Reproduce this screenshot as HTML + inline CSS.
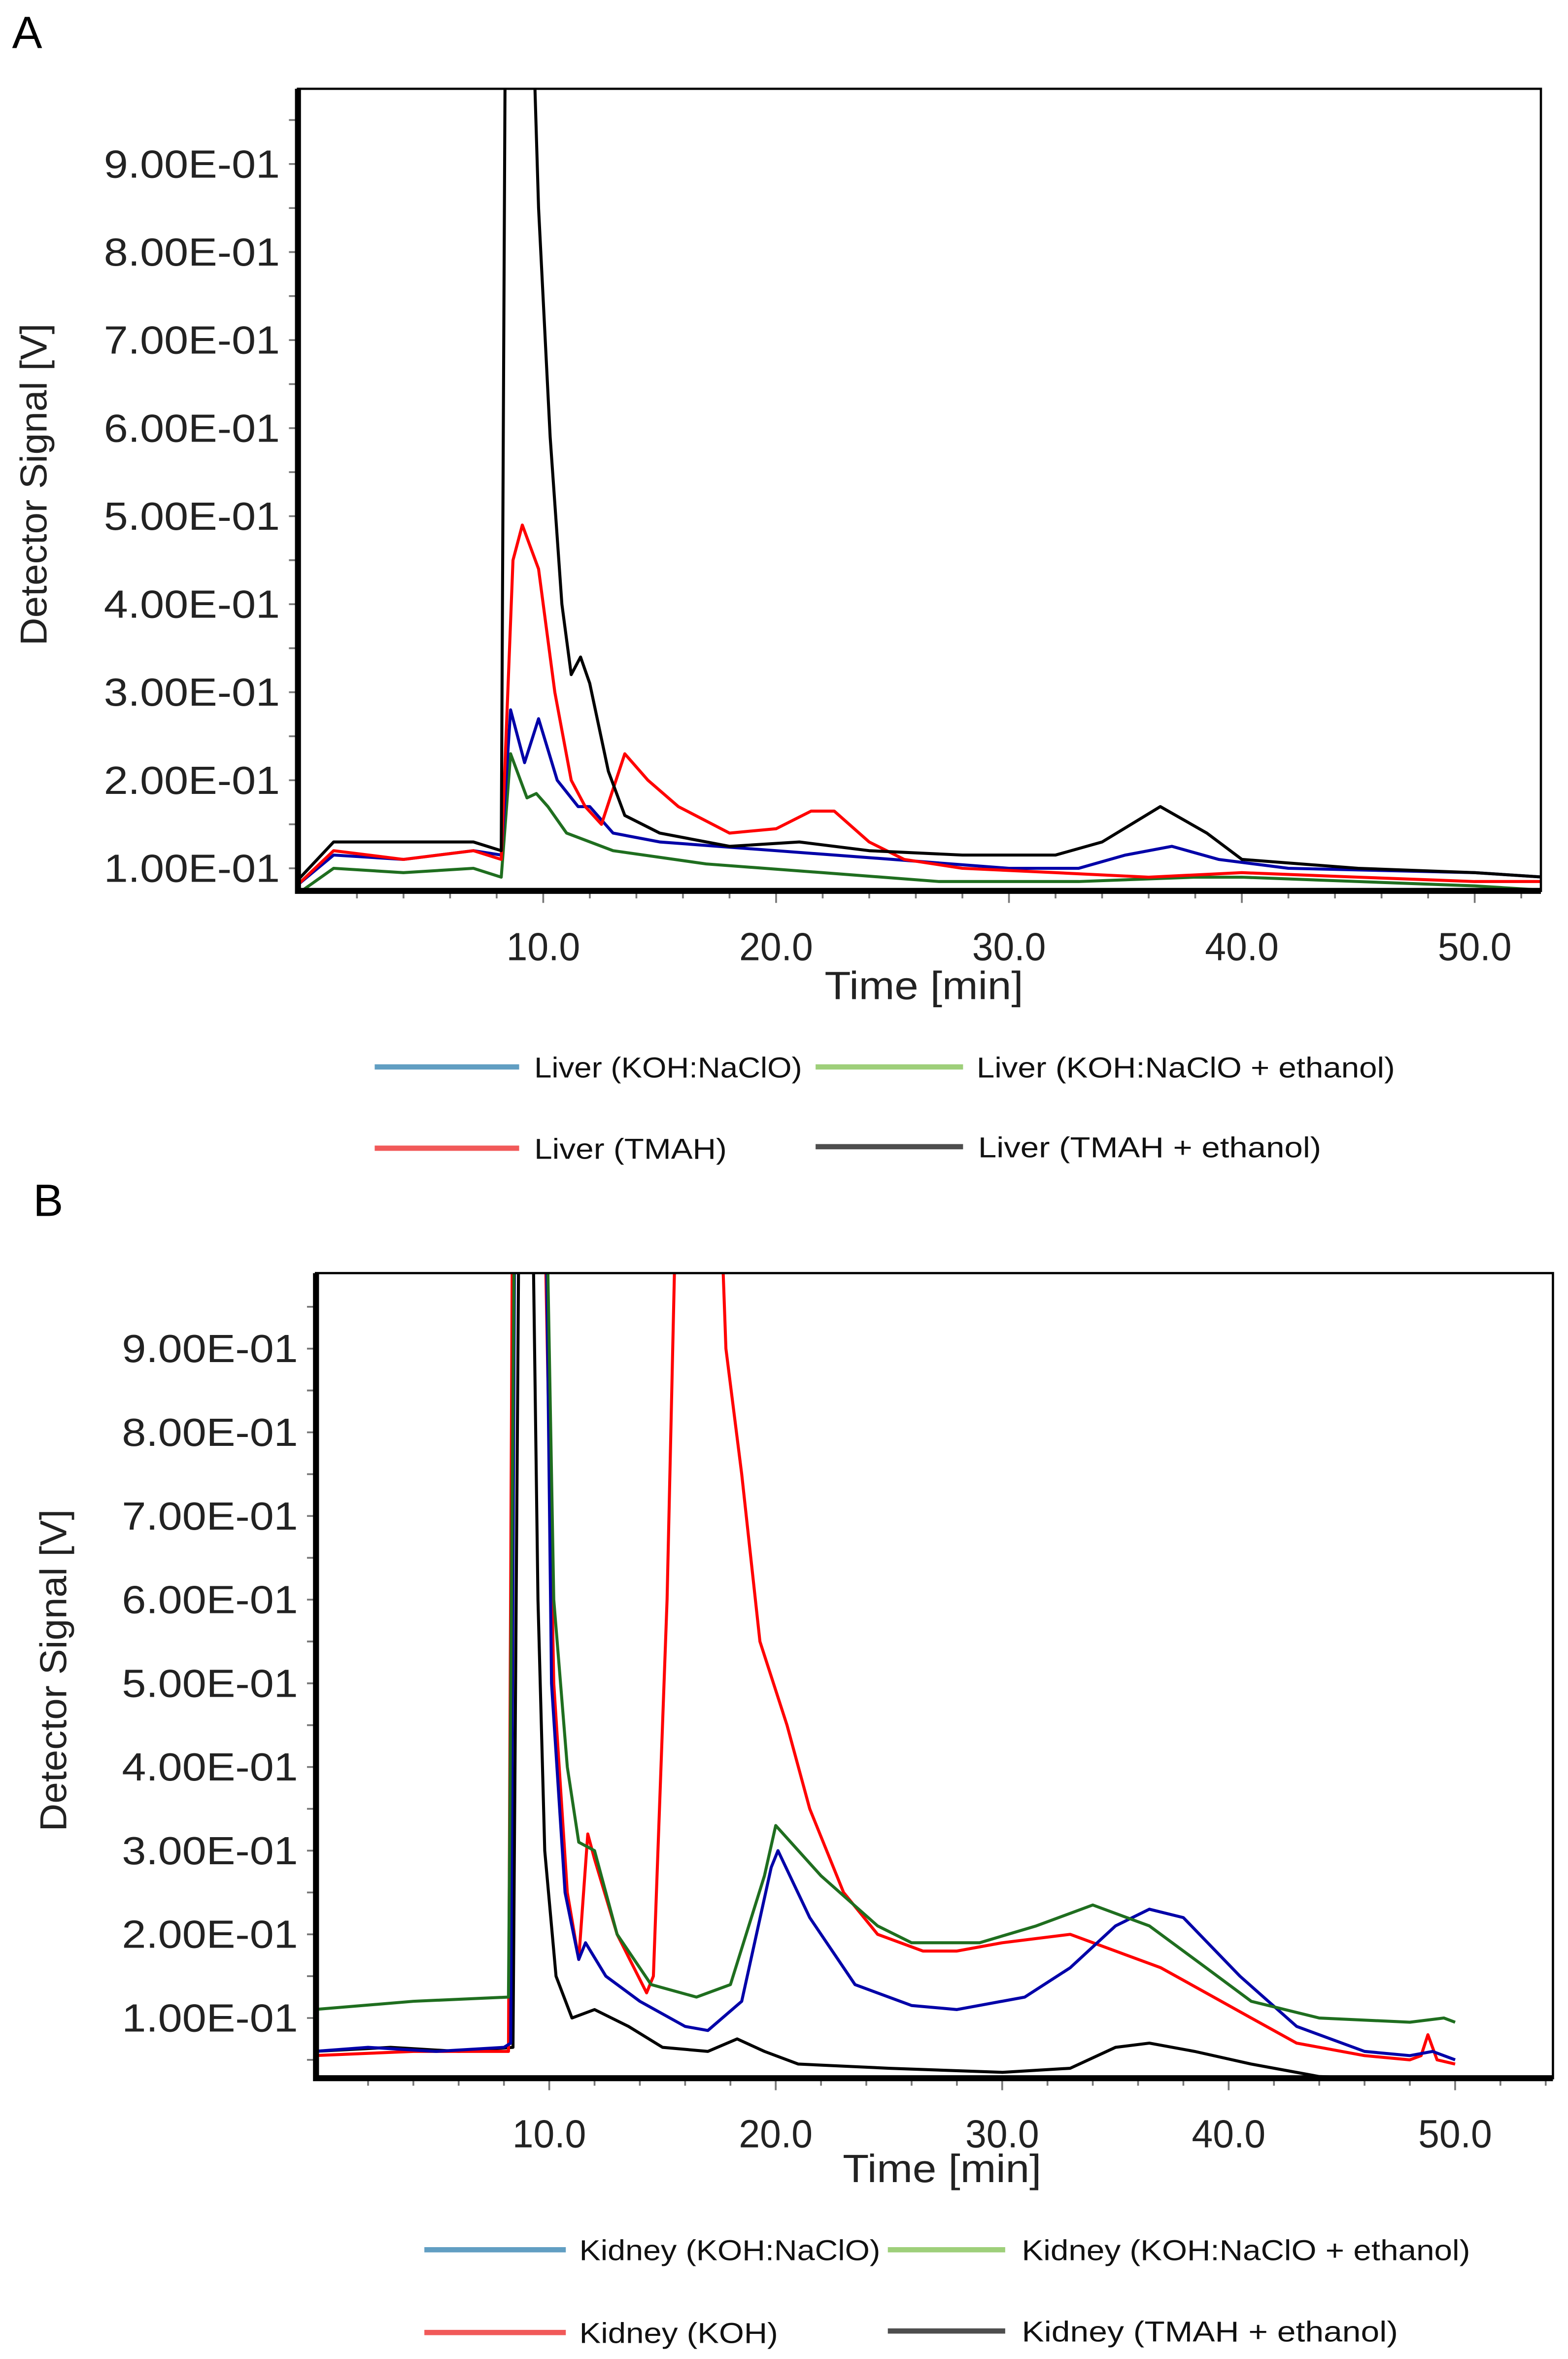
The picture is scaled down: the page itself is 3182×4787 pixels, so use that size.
<!DOCTYPE html>
<html><head><meta charset="utf-8"><style>
html,body{margin:0;padding:0;background:#fff}
svg{display:block}
text{font-family:"Liberation Sans",sans-serif}
</style></head><body>
<svg id="fig" width="3182" height="4787" viewBox="0 0 1042 1567.6" xmlns="http://www.w3.org/2000/svg">
<defs>
<clipPath id="clipA"><rect x="198" y="59" width="826" height="533"/></clipPath>
<clipPath id="clipB"><rect x="210" y="846" width="822" height="535"/></clipPath>
</defs>
<text x="8" y="32" font-size="30">A</text>
<text x="22" y="808" font-size="30">B</text>
<g id="panelA"></g>
<g id="panelB"></g>
</svg>
<script>
// ---- Panel A data ----
const aTicksX = [10, 20, 30, 40, 50];
const aTicksY = [0.1,0.2,0.3,0.4,0.5,0.6,0.7,0.8,0.9];
const aBlack = [[-0.6,0.085],[1,0.13],[4,0.13],[7,0.13],[8.2,0.12],[8.4,1.2],[9.4,1.2],[9.8,0.85],[10.3,0.59],[10.8,0.40],[11.2,0.32],[11.6,0.34],[12.0,0.31],[12.8,0.21],[13.5,0.16],[15,0.14],[18,0.125],[21,0.13],[24,0.12],[28,0.115],[32,0.115],[34,0.13],[36.5,0.17],[38.5,0.14],[40,0.11],[45,0.10],[50,0.095],[53,0.09]];
const aRed = [[-0.6,0.08],[1,0.12],[4,0.11],[7,0.12],[8.2,0.11],[8.7,0.45],[9.1,0.49],[9.8,0.44],[10.5,0.30],[11.2,0.20],[11.8,0.17],[12.5,0.15],[13.0,0.19],[13.5,0.23],[14.5,0.20],[15.8,0.17],[18,0.14],[20,0.145],[21.5,0.165],[22.5,0.165],[24,0.13],[25.5,0.11],[28,0.10],[32,0.095],[36,0.09],[40,0.095],[45,0.09],[50,0.085],[53,0.085]];
const aBlue = [[-0.6,0.08],[1,0.115],[4,0.11],[7,0.12],[8.2,0.115],[8.6,0.28],[9.2,0.22],[9.8,0.27],[10.6,0.20],[11.5,0.17],[12,0.17],[13,0.14],[15,0.13],[20,0.12],[25,0.11],[30,0.10],[33,0.10],[35,0.115],[37,0.125],[39,0.11],[42,0.10],[50,0.095],[53,0.09]];
const aGreen = [[-0.6,0.07],[1,0.10],[4,0.095],[7,0.10],[8.2,0.09],[8.6,0.23],[9.3,0.18],[9.7,0.185],[10.2,0.17],[11,0.14],[13,0.12],[17,0.105],[22,0.095],[27,0.085],[33,0.085],[38,0.09],[40,0.09],[45,0.085],[50,0.08],[53,0.075]];
// ---- Panel B data ----
const bTicksX = [10, 20, 30, 40, 50];
const bTicksY = [0.1,0.2,0.3,0.4,0.5,0.6,0.7,0.8,0.9];
const bBlue = [[-0.4,0.06],[2,0.065],[5,0.06],[8,0.065],[8.3,0.07],[8.5,1.2],[9.8,1.2],[10.1,0.5],[10.7,0.25],[11.3,0.17],[11.6,0.19],[12.5,0.15],[14,0.12],[16,0.09],[17,0.085],[18.5,0.12],[19.8,0.28],[20.1,0.30],[21.5,0.22],[23.5,0.14],[26,0.115],[28,0.11],[31,0.125],[33,0.16],[35,0.21],[36.5,0.23],[38,0.22],[40.5,0.15],[43,0.09],[46,0.06],[48,0.055],[49,0.06],[50,0.05]];
const bGreen = [[-0.4,0.11],[4,0.12],[8.2,0.125],[8.5,1.2],[9.8,1.2],[10.2,0.6],[10.8,0.40],[11.3,0.31],[12,0.30],[13,0.20],[14.5,0.14],[16.5,0.125],[18,0.14],[19.5,0.27],[20,0.33],[22,0.27],[24.5,0.21],[26,0.19],[29,0.19],[31.5,0.21],[34,0.235],[36.5,0.21],[39,0.16],[41,0.12],[44,0.10],[48,0.095],[49.5,0.10],[50,0.095]];
const bRed = [[-0.4,0.055],[4,0.06],[8.2,0.06],[8.4,1.2],[9.7,1.2],[10.2,0.5],[10.8,0.25],[11.3,0.17],[11.7,0.32],[12,0.29],[13,0.20],[14.3,0.13],[14.6,0.15],[15.2,0.6],[15.7,1.2],[17.4,1.2],[17.8,0.9],[18.5,0.75],[19.3,0.55],[20.5,0.45],[21.5,0.35],[23,0.25],[24.5,0.20],[26.5,0.18],[28,0.18],[30,0.19],[33,0.20],[35,0.18],[37,0.16],[39,0.13],[41,0.10],[43,0.07],[46,0.055],[48,0.05],[48.5,0.055],[48.8,0.08],[49.2,0.05],[50,0.045]];
const bBlack = [[-0.4,0.06],[3,0.065],[6,0.06],[8.4,0.065],[8.7,1.2],[9.2,1.2],[9.5,0.6],[9.8,0.3],[10.3,0.15],[11,0.10],[12,0.11],[13.5,0.09],[15,0.065],[17,0.06],[18.3,0.075],[19.5,0.06],[21,0.045],[25,0.04],[30,0.035],[33,0.04],[35,0.065],[36.5,0.07],[38.5,0.06],[41,0.045],[44,0.03],[50,0.025]];

const NS = "http://www.w3.org/2000/svg";
function mk(parent, tag, attrs, txt){
  const e = document.createElementNS(NS, tag);
  for (const k in attrs) e.setAttribute(k, attrs[k]);
  if (txt !== undefined) e.textContent = txt;
  parent.appendChild(e);
  return e;
}
function draw(g, cfg){
  const sx = t => cfg.x10 + (t-10)*cfg.pxX;
  const sy = v => cfg.y01 - (v-0.1)*cfg.pxY;
  for (let t=2; t<=cfg.tmax; t+=2){
    const tk = mk(g,'line',{x1:sx(t),x2:sx(t),y1:cfg.b,y2:cfg.b+(t%10===0?8:5),stroke:'#777','stroke-width':1.2});
    
    
  }
  for (let v=0.05; v<cfg.vmax; v+=0.05){
    const y = sy(v); if (y>cfg.b-2||y<cfg.t) continue;
    const tk = mk(g,'line',{x1:cfg.l-6,x2:cfg.l,y1:y,y2:y,stroke:'#777','stroke-width':1.2});
    
    
  }
  cfg.ticksX.forEach(t=>{
    const e = mk(g,'text',{x:sx(t),y:cfg.b+46,'font-size':26,'text-anchor':'middle',fill:'#222',textLength:49,lengthAdjust:'spacingAndGlyphs'}, t.toFixed(1));
    
    
  });
  cfg.ticksY.forEach(v=>{
    const e = mk(g,'text',{x:cfg.l-12-117,y:sy(v)+9,'font-size':26,fill:'#222',textLength:117,lengthAdjust:'spacingAndGlyphs'}, (v*10).toFixed(2)+'E-01');
    
    
  });
  const xt = mk(g,'text',{x:cfg.xtX-66,y:cfg.xtY,'font-size':26,fill:'#222',textLength:132,lengthAdjust:'spacingAndGlyphs'},'Time [min]');
  
  
  const yt = mk(g,'text',{x:-107,y:0,'font-size':25,fill:'#222',textLength:214,lengthAdjust:'spacingAndGlyphs',transform:`translate(${cfg.ytX},${cfg.ytY}) rotate(-90)`},'Detector Signal [V]');
  
  
  const sg = mk(g,'g',{'clip-path':`url(#${cfg.clip})`});
  
  
  cfg.series.forEach(s=>{
    const d = s.data.map((p,i)=>(i?'L':'M')+sx(p[0]).toFixed(1)+','+sy(p[1]).toFixed(1)).join(' ');
    const p = mk(sg,'path',{d:d,fill:'none',stroke:s.color,'stroke-width':2,'stroke-linejoin':'round'});
    
    
  });
  const box = mk(g,'rect',{x:cfg.l,y:cfg.t,width:cfg.r-cfg.l,height:cfg.b-cfg.t,fill:'none',stroke:'#000','stroke-width':1.5});
  
  
  const ax = mk(g,'path',{d:`M${cfg.l},${cfg.t} V${cfg.b} H${cfg.r}`,fill:'none',stroke:'#000','stroke-width':4});
  
  
  cfg.legend.forEach(L=>{
    const lg = mk(g,'g',{});
    
    
    mk(lg,'line',{x1:L.x1,x2:L.x2,y1:L.y,y2:L.y,stroke:L.color,'stroke-width':3.5,opacity:0.8});
    mk(lg,'text',{x:L.tx,y:L.y+7,'font-size':19,fill:'#111',textLength:L.tl,lengthAdjust:'spacingAndGlyphs'},L.label);
  });
}
draw(document.getElementById('panelA'),{
  l:198,r:1024,t:59,b:592,x10:361,pxX:15.475,y01:577,pxY:585,tmax:52,vmax:1,
  ticksX:aTicksX,ticksY:aTicksY,xtX:614,xtY:664,ytX:31,ytY:322,clip:'clipA',
  series:[{data:aGreen,color:'#1f6e1f',name:'liver-koh-naclo-ethanol-line'},{data:aBlue,color:'#0000a8',name:'liver-koh-naclo-line'},{data:aRed,color:'#ff0000',name:'liver-tmah-line'},{data:aBlack,color:'#000',name:'liver-tmah-ethanol-line'}],
  legend:[{x1:249,x2:345,y:709,tx:355,tl:178,color:'#3a86b4',label:'Liver (KOH:NaClO)'},
          {x1:542,x2:640,y:709,tx:649,tl:278,color:'#86c45a',label:'Liver (KOH:NaClO + ethanol)'},
          {x1:249,x2:345,y:763,tx:355,tl:128,color:'#ee3030',label:'Liver (TMAH)'},
          {x1:542,x2:640,y:762,tx:650,tl:228,color:'#222',label:'Liver (TMAH + ethanol)'}]
});
draw(document.getElementById('panelB'),{
  l:210,r:1032,t:846,b:1381,x10:365,pxX:15.05,y01:1341,pxY:556,tmax:54,vmax:1,
  ticksX:bTicksX,ticksY:bTicksY,xtX:626,xtY:1450,ytX:44,ytY:1110,clip:'clipB',
  series:[{data:bBlack,color:'#000',name:'kidney-tmah-ethanol-line'},{data:bRed,color:'#ff0000',name:'kidney-koh-line'},{data:bBlue,color:'#0000a8',name:'kidney-koh-naclo-line'},{data:bGreen,color:'#1f6e1f',name:'kidney-koh-naclo-ethanol-line'}],
  legend:[{x1:282,x2:376,y:1495,tx:385,tl:200,color:'#3a86b4',label:'Kidney (KOH:NaClO)'},
          {x1:590,x2:668,y:1495,tx:679,tl:298,color:'#86c45a',label:'Kidney (KOH:NaClO + ethanol)'},
          {x1:282,x2:376,y:1550,tx:385,tl:132,color:'#ee3030',label:'Kidney (KOH)'},
          {x1:590,x2:668,y:1549,tx:679,tl:250,color:'#222',label:'Kidney (TMAH + ethanol)'}]
});
</script>
</body></html>
